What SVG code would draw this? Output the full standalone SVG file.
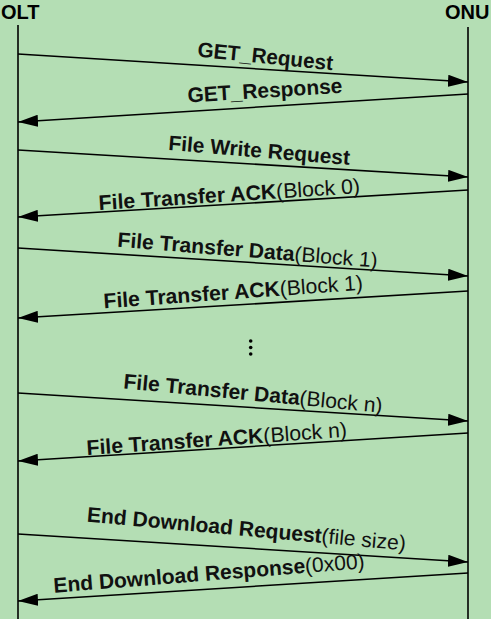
<svg xmlns="http://www.w3.org/2000/svg" width="491" height="619" viewBox="0 0 491 619">
<style>
.bg{fill:#B4DEB4}
.life{stroke:#000;stroke-width:1.6;fill:none}
.msg{stroke:#000;stroke-width:1.6;fill:none;marker-end:url(#arr)}
.hdr{font-family:"Liberation Sans",Arial,sans-serif;font-weight:bold;font-size:20px;fill:#000}
.lbl{font-family:"Liberation Sans",Arial,sans-serif;font-size:21px;fill:#111}
.b{font-weight:bold}
</style>
<defs>
<marker id="arr" markerUnits="userSpaceOnUse" markerWidth="20" markerHeight="12" refX="20" refY="6" orient="auto">
<path d="M0,0 L20,6 L0,12 Z" fill="#000"/>
</marker>
</defs>
<rect class="bg" x="0" y="0" width="491" height="619"/>
<g id="olt">
<text class="hdr" x="1" y="19">OLT</text>
<line class="life" x1="18" y1="25" x2="18" y2="619"/>
</g>
<g id="onu">
<text class="hdr" x="445" y="19">ONU</text>
<line class="life" x1="468" y1="27" x2="468" y2="619"/>
</g>
<g id="connectors">
<line class="msg" x1="18" y1="54" x2="468" y2="82"/>
<line class="msg" x1="468" y1="94" x2="18" y2="122"/>
<line class="msg" x1="18" y1="150" x2="468" y2="177"/>
<line class="msg" x1="468" y1="190" x2="18" y2="217"/>
<line class="msg" x1="18" y1="248" x2="468" y2="276"/>
<line class="msg" x1="468" y1="291" x2="18" y2="318"/>
<line class="msg" x1="18" y1="393" x2="468" y2="421"/>
<line class="msg" x1="468" y1="433" x2="18" y2="461"/>
<line class="msg" x1="18" y1="534" x2="468" y2="562"/>
<line class="msg" x1="468" y1="573" x2="18" y2="601"/>
</g>
<g id="labels">
<text class="lbl" x="197" y="56.5" transform="rotate(5.8 197 56.5)" textLength="136" lengthAdjust="spacingAndGlyphs"><tspan class="b">GET_Request</tspan></text>
<text class="lbl" x="188" y="102.5" transform="rotate(-3.6 188 102.5)" textLength="155" lengthAdjust="spacingAndGlyphs"><tspan class="b">GET_Response</tspan></text>
<text class="lbl" x="168" y="150" transform="rotate(4.7 168 150)" textLength="182" lengthAdjust="spacingAndGlyphs"><tspan class="b">File Write Request</tspan></text>
<text class="lbl" x="99" y="210" transform="rotate(-3.7 99 210)" textLength="262" lengthAdjust="spacingAndGlyphs"><tspan class="b">File Transfer ACK</tspan>(Block 0)</text>
<text class="lbl" x="117" y="246.7" transform="rotate(4.6 117 246.7)" textLength="261" lengthAdjust="spacingAndGlyphs"><tspan class="b">File Transfer Data</tspan>(Block 1)</text>
<text class="lbl" x="104" y="308.3" transform="rotate(-4.1 104 308.3)" textLength="260" lengthAdjust="spacingAndGlyphs"><tspan class="b">File Transfer ACK</tspan>(Block 1)</text>
<text class="lbl" x="123" y="388.3" transform="rotate(5.4 123 388.3)" textLength="260" lengthAdjust="spacingAndGlyphs"><tspan class="b">File Transfer Data</tspan>(Block n)</text>
<text class="lbl" x="87" y="455" transform="rotate(-4 87 455)" textLength="261" lengthAdjust="spacingAndGlyphs"><tspan class="b">File Transfer ACK</tspan>(Block n)</text>
<text class="lbl" x="86.5" y="521.5" transform="rotate(5.2 86.5 521.5)" textLength="320" lengthAdjust="spacingAndGlyphs"><tspan class="b">End Download Request</tspan>(file size)</text>
<text class="lbl" x="54" y="592.7" transform="rotate(-4.5 54 592.7)" textLength="312" lengthAdjust="spacingAndGlyphs"><tspan class="b">End Download Response</tspan>(0x00)</text>
</g>
<g id="ellipsis" fill="#000">
<circle cx="250.7" cy="341" r="1.8"/>
<circle cx="250.7" cy="347.5" r="1.8"/>
<circle cx="250.7" cy="354" r="1.8"/>
</g>
</svg>
